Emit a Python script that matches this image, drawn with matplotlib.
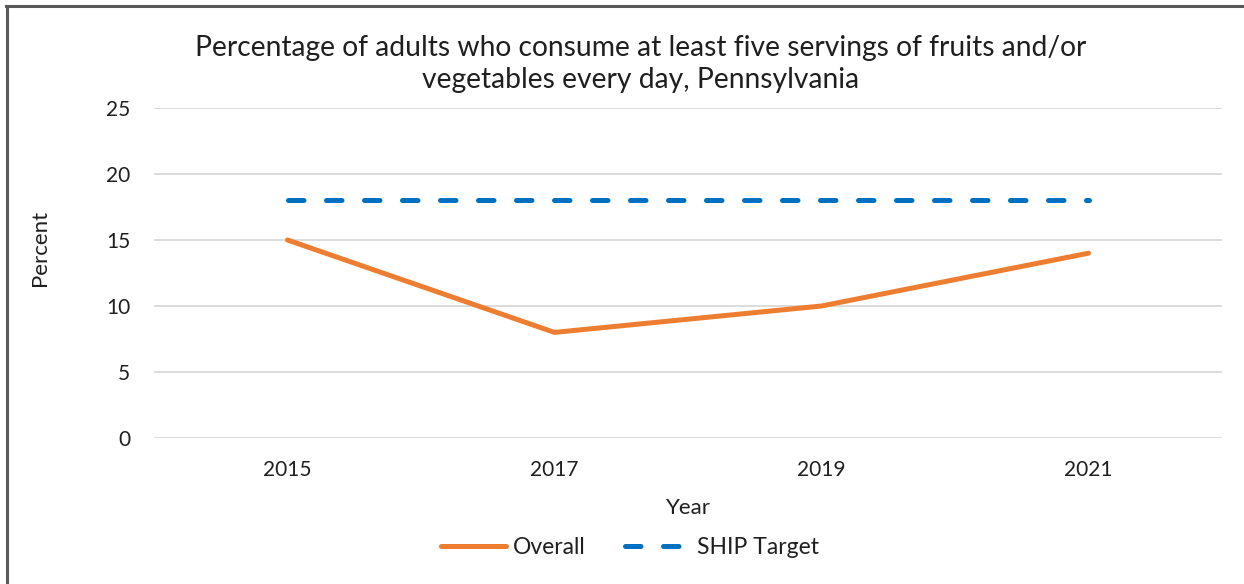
import matplotlib
matplotlib.use("Agg")
import matplotlib.pyplot as plt
from matplotlib.lines import Line2D

plt.rcParams['font.family'] = ['Lato', 'DejaVu Sans']

years = ["2015", "2017", "2019", "2021"]
overall = [15, 8, 10, 14]
ship_target = [18, 18, 18, 18]

orange = "#ED7D31"
blue = "#0070C0"
grid_col = "#D9D9D9"
txt = "#1F1F1F"

fig = plt.figure(figsize=(12.44, 5.84), dpi=100)
ax = fig.add_axes([154 / 1244, 1 - 438 / 584, (1222 - 154) / 1244, (438 - 108) / 584])

x = list(range(len(years)))
ax.plot(x, overall, color=orange, lw=3.6, solid_capstyle="round", label="Overall")
ax.plot(x, ship_target, color=blue, lw=3.6, dash_capstyle="round",
        dashes=(3.1, 4.5), label="SHIP Target")

ax.set_xlim(-0.5, len(years) - 0.5)
ax.set_ylim(0, 25)
ax.set_yticks([0, 5, 10, 15, 20, 25])
ax.set_xticks(x)
ax.set_xticklabels(years)
ax.yaxis.grid(True, color=grid_col, lw=1.3)
ax.set_axisbelow(True)
for s in ax.spines.values():
    s.set_visible(False)
ax.tick_params(axis="both", length=0, labelsize=15, colors=txt)
ax.tick_params(axis="x", pad=16)
ax.tick_params(axis="y", pad=17)

fig.text(688 / 1244, 1 - 508 / 584, "Year", ha="center", va="center", fontsize=16, color=txt)
fig.text(40 / 1244, 1 - 248 / 584, "Percent", ha="center", va="center", rotation=90,
         fontsize=16, color=txt)
fig.text(641 / 1244, 1 - 64 / 584,
         "Percentage of adults who consume at least five servings of fruits and/or\nvegetables every day, Pennsylvania",
         ha="center", va="center", fontsize=20.3, color=txt, linespacing=1.25)

handles = [Line2D([], [], color=orange, lw=3.6, solid_capstyle="round"),
           Line2D([], [], color=blue, lw=3.6, dash_capstyle="round", dashes=(3.1, 4.5))]
fig.legend(handles, ["Overall", "SHIP Target"], loc="center", ncol=2,
           bbox_to_anchor=(630 / 1244, 1 - 548 / 584), frameon=False, fontsize=16.5,
           handlelength=2.84, handletextpad=0.3, columnspacing=1.7, labelcolor=txt)

# frame around the chart (top and left edges visible)
fig.add_artist(Line2D([6 / 1244, 1], [1 - 6 / 584, 1 - 6 / 584], color="#595959", lw=2.2,
                      transform=fig.transFigure))
fig.add_artist(Line2D([6.5 / 1244, 6.5 / 1244], [0, 1 - 6 / 584], color="#595959", lw=2.2,
                      transform=fig.transFigure))

fig.savefig("out.png", dpi=100)
